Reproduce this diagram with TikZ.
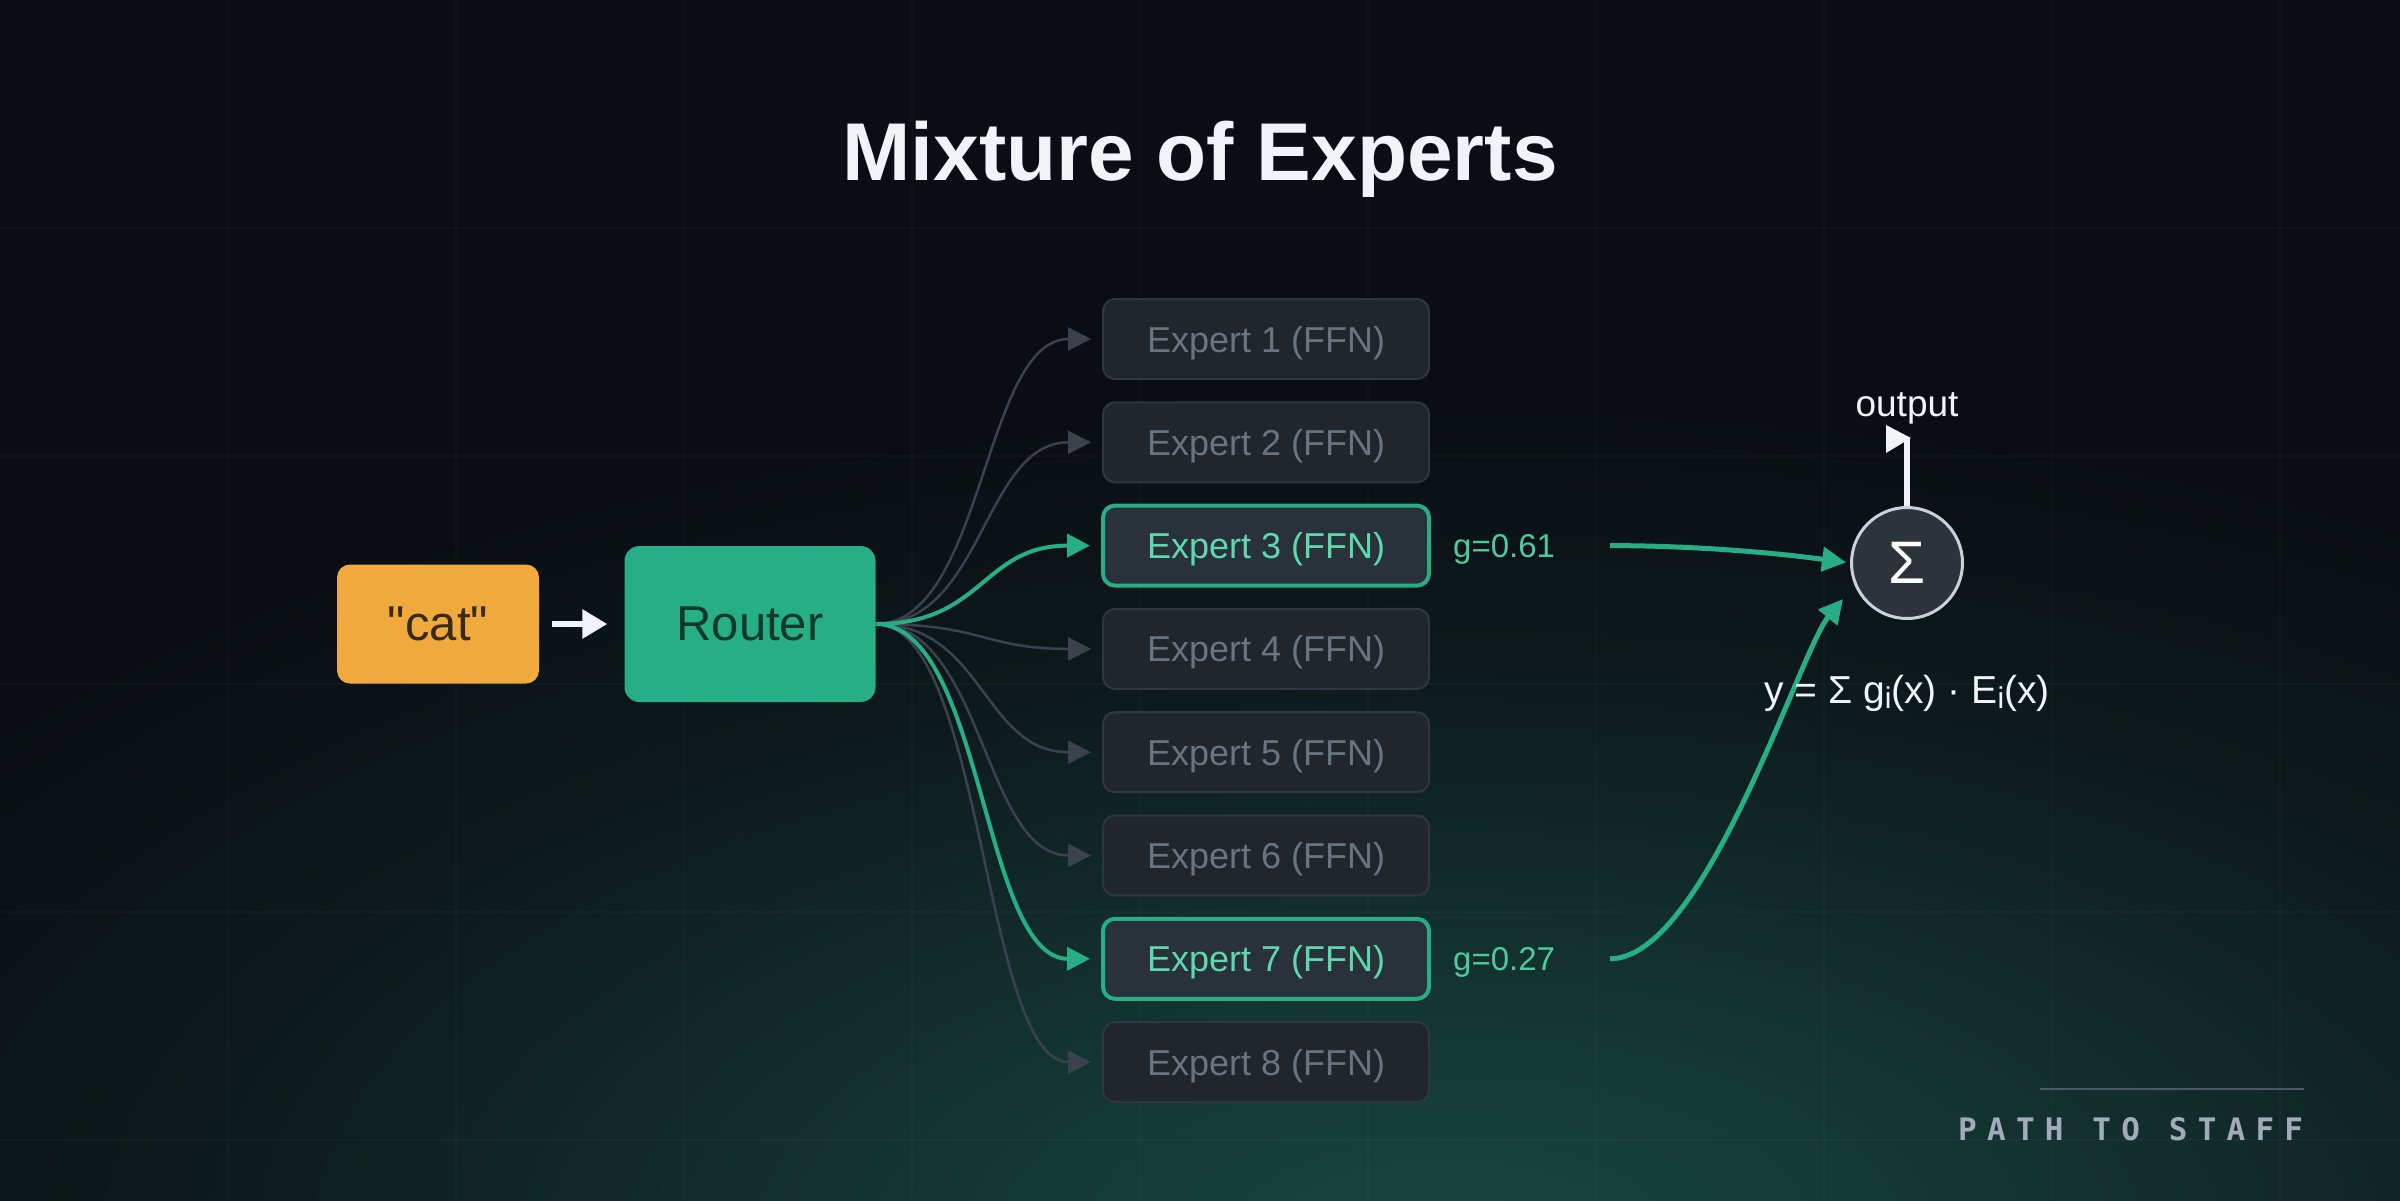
\documentclass[tikz,border=0pt]{standalone}
\usepackage{fontspec}
\setmainfont{Liberation Sans}
\newfontfamily\brandfont{DejaVu Sans Mono}[LetterSpace=33]
\usetikzlibrary{arrows.meta,calc}

\definecolor{bgc}{HTML}{0A0D13}
\definecolor{glowc}{HTML}{18473F}
\definecolor{catc}{HTML}{F0A93C}
\definecolor{cattext}{HTML}{3A2A12}
\definecolor{routerc}{HTML}{27AE84}
\definecolor{routertext}{HTML}{0E3A2C}
\definecolor{boxc}{HTML}{21262D}
\definecolor{boxline}{HTML}{30363D}
\definecolor{hotbox}{HTML}{29313A}
\definecolor{mutetext}{HTML}{6B737D}
\definecolor{hottext}{HTML}{5ED8AC}
\definecolor{gatetext}{HTML}{4FC99E}
\definecolor{wirec}{HTML}{3B424C}
\definecolor{sumc}{HTML}{2D333B}
\definecolor{sumline}{HTML}{C9D1D9}
\definecolor{titlec}{HTML}{F0F4F8}
\definecolor{brandc}{HTML}{A2ACB8}
\definecolor{rulec}{HTML}{4A5A62}

\pgfdeclareradialshading{glowshade}{\pgfpoint{0bp}{0bp}}{%
  color(0bp)=(glowc); color(9bp)=(glowc!60!bgc); color(17bp)=(glowc!20!bgc);
  color(25bp)=(bgc); color(50bp)=(bgc)}

\newcommand\subi{\raisebox{-5bp}{\fontsize{30bp}{30bp}\selectfont i}}

\begin{document}
\begin{tikzpicture}[x=1bp,y=-1bp,
    box/.style={rounded corners=12bp, minimum width=326bp, minimum height=80bp,
      inner sep=0pt, text depth=0pt, font=\fontsize{36bp}{40bp}\selectfont},
    expert/.style={box, fill=boxc, draw=boxline, line width=2bp, text=mutetext},
    hot/.style={box, fill=hotbox, draw=routerc, line width=4bp, text=hottext},
    wire/.style={draw=wirec, line width=2.5bp, shorten >=11bp,
      -{Triangle[length=23bp,width=23bp]}},
    hotwire/.style={wire, draw=routerc, line width=4bp},
    gline/.style={draw=routerc, line width=5bp, -{Triangle[length=24bp,width=24bp]}},
    gate/.style={anchor=base west, inner sep=0pt, text=gatetext,
      font=\fontsize{33bp}{36bp}\selectfont}]
  \useasboundingbox (0,0) rectangle (2400,1200);

  % backdrop
  \begin{scope}
    \clip (0,0) rectangle (2400,1200);
    \fill[bgc] (0,0) rectangle (2400,1200);
    \shade[shading=glowshade] (1450,1240) ellipse [x radius=1900, y radius=860];
    \foreach \gx in {228,456,...,2280}
      \draw[white, opacity=0.025, line width=1.5bp] (\gx,0) -- (\gx,1200);
    \foreach \gy in {228,456,...,1140}
      \draw[white, opacity=0.025, line width=1.5bp] (0,\gy) -- (2400,\gy);
  \end{scope}

  \node[anchor=base, text=titlec, font=\fontsize{82bp}{90bp}\selectfont\bfseries]
    (title) at (1200,180) {Mixture of Experts};

  % input and router
  \node[fill=catc, rounded corners=13bp, minimum width=202bp, minimum height=119bp,
    text=cattext, font=\fontsize{49bp}{52bp}\selectfont] (cat) at (438,624)
    {\textquotedbl cat\textquotedbl};
  \node[fill=routerc, rounded corners=15bp, minimum width=251bp, minimum height=156bp,
    text=routertext, font=\fontsize{49bp}{52bp}\selectfont] (router) at (750,624) {Router};
  \draw[titlec, line width=6bp, shorten <=13bp, shorten >=17bp,
    -{Triangle[length=25bp,width=28bp]}] (cat) -- (router);

  % experts
  \foreach \k/\sty in {1/expert,2/expert,3/hot,4/expert,5/expert,6/expert,7/hot,8/expert}{
    \pgfmathsetmacro\ey{339+(\k-1)*103.3}
    \node[\sty] (e\k) at (1266,\ey) {Expert \k\ (FFN)};
  }
  \foreach \k in {1,2,4,5,6,8}
    \draw[wire] (router.east) .. controls +(108,0) and +(-119,0) .. (e\k.west);
  \foreach \k in {3,7}
    \draw[hotwire] (router.east) .. controls +(108,0) and +(-119,0) .. (e\k.west);

  % gates
  \node[gate] (g3) at ($(e3.east)+(22,12)$) {g=0.61};
  \node[gate] (g7) at ($(e7.east)+(22,12)$) {g=0.27};
  \coordinate (s3) at ($(e3.east)+(179,0)$);
  \coordinate (s7) at ($(e7.east)+(179,0)$);

  % weighted sum
  \node[circle, minimum size=111bp, inner sep=0pt, fill=sumc, draw=sumline,
    line width=3bp, text=white, font=\fontsize{60bp}{60bp}\selectfont] (sum) at (1907,563) {Σ};
  \draw[gline, shorten >=4bp] (s3) .. controls +(92,0) and +(-66,-9) .. (sum.west);
  \draw[gline, shorten >=18bp] (s7) .. controls +(95,0) and +(-55,66) .. (sum.203);

  \coordinate (outtop) at ($(sum.north)+(0,-68)$);
  \draw[titlec, line width=6bp] (sum.north) -- (outtop);
  \fill[titlec] ($(outtop)+(4,0)$) -- ($(outtop)+(-21,-13)$) -- ($(outtop)+(-21,15)$) -- cycle;
  \node[anchor=base, text=titlec, font=\fontsize{37bp}{40bp}\selectfont]
    (outlbl) at ($(outtop)+(0,-22)$) {output};
  \node[anchor=base, text=titlec, font=\fontsize{39bp}{40bp}\selectfont]
    (formula) at ($(sum.center)+(0,140)$) {y = Σ g\subi(x) · E\subi(x)};

  % brand
  \draw[rulec, line width=2bp] (2040,1089) -- (2304,1089);
  \node[anchor=base west, inner sep=0pt, text=brandc,
    font=\fontsize{31bp}{34bp}\brandfont\bfseries] (brand) at (1958,1140) {PATH TO STAFF};
\end{tikzpicture}
\end{document}
